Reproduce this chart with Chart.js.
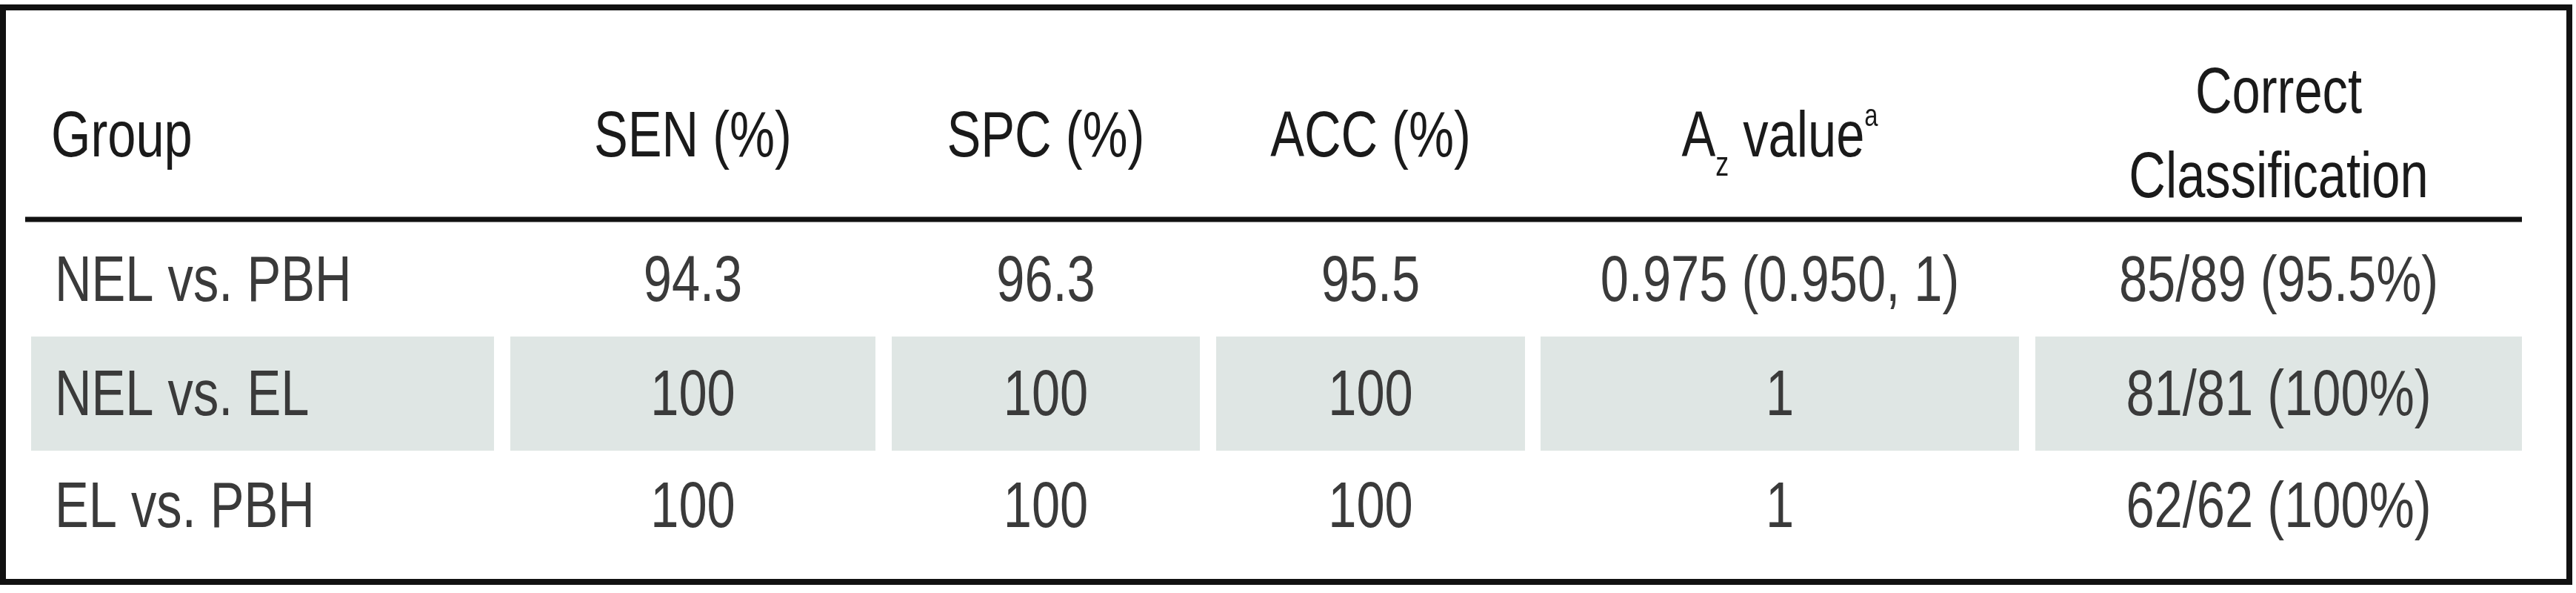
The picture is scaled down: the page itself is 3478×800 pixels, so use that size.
<!DOCTYPE html>
<html><head><meta charset="utf-8">
<script src="https://cdn.jsdelivr.net/npm/chart.js@4"></script>
<style>html,body{margin:0;padding:0;background:#fff}canvas{display:block}</style>
</head><body>
<canvas id="c" width="3478" height="800"></canvas>
<script>
const headers = ["Group","SEN (%)","SPC (%)","ACC (%)","AZ","Correct\nClassification"];
const groups = ["NEL vs. PBH","NEL vs. EL","EL vs. PBH"];
const sen = ["94.3","100","100"];
const spc = ["96.3","100","100"];
const acc = ["95.5","100","100"];
const az = ["0.975 (0.950, 1)","1","1"];
const correct = ["85/89 (95.5%)","81/81 (100%)","62/62 (100%)"];
const shadedRows = [1];

// layout (pixel-space units of the linear scales)
const colEdges = [[42,667],[689,1182],[1204,1620],[1642,2059],[2080,2726],[2748,3405]];
const rowY = [382,536,687];
const bandH = [454,608];
const FONT = "'Liberation Sans Narrow','Liberation Sans','DejaVu Sans Condensed',sans-serif";
const SQ = 0.78; // horizontal condensing

const tablePlugin = {
  id:'table',
  afterDraw(chart){
    const ctx = chart.ctx, xs = chart.scales.x, ys = chart.scales.y;
    const X = v=>xs.getPixelForValue(v), Y = v=>ys.getPixelForValue(v);
    const font = s=>s+"px "+FONT;
    const W = t=>ctx.measureText(t).width*SQ;
    const txt = (t,x,y,align)=>{
      let x0 = align==='center'? x-W(t)/2 : x;
      ctx.save(); ctx.textAlign='left'; ctx.translate(x0,y); ctx.scale(SQ,1); ctx.fillText(t,0,0); ctx.restore();
    };
    ctx.save();
    ctx.fillStyle = '#dfe6e4';
    shadedRows.forEach(r=>{
      colEdges.forEach(([a,b])=>ctx.fillRect(X(a),Y(bandH[0]),X(b)-X(a),Y(bandH[1])-Y(bandH[0])));
    });
    ctx.strokeStyle='#111'; ctx.lineWidth=8;
    ctx.strokeRect(X(4),Y(10),X(3469)-X(4),Y(785)-Y(10));
    ctx.lineWidth=7; ctx.beginPath(); ctx.moveTo(X(34),Y(296)); ctx.lineTo(X(3405),Y(296)); ctx.stroke();
    ctx.textBaseline='middle';
    ctx.fillStyle='#1a1a1a'; ctx.font=font(88);
    headers.forEach((h,i)=>{
      const [a,b]=colEdges[i]; const cx=(X(a)+X(b))/2;
      if(i===0){txt(h,X(69),Y(187),'left'); return;}
      if(h==='AZ'){
        const wA=W('A');
        ctx.font=font(46); const wz=W('z');
        ctx.font=font(88); const wv=W(' value');
        ctx.font=font(42); const wa=W('a');
        let x0=cx-(wA+wz+wv+wa)/2;
        ctx.font=font(88); txt('A',x0,Y(187),'left'); x0+=wA;
        ctx.font=font(46); txt('z',x0,Y(224),'left'); x0+=wz;
        ctx.font=font(88); txt(' value',x0,Y(187),'left'); x0+=wv;
        ctx.font=font(42); txt('a',x0,Y(158),'left');
        ctx.font=font(88); return;
      }
      const lines=h.split('\n');
      if(lines.length===1) txt(h,cx,Y(187),'center');
      else {txt(lines[0],cx,Y(128),'center'); txt(lines[1],cx,Y(242),'center');}
    });
    ctx.fillStyle='#3a3a3a'; ctx.font=font(88);
    const cols=[groups,sen,spc,acc,az,correct];
    cols.forEach((col,i)=>{
      const [a,b]=colEdges[i]; const cx=(X(a)+X(b))/2;
      col.forEach((t,r)=>{
        if(i===0) txt(t,X(74),Y(rowY[r]),'left');
        else txt(t,cx,Y(rowY[r]),'center');
      });
    });
    ctx.restore();
  }
};

new Chart(document.getElementById('c'),{
  type:'scatter',
  data:{datasets:[{data:[]}]},
  options:{
    responsive:false, animation:false, devicePixelRatio:1,
    layout:{padding:0},
    plugins:{legend:{display:false},tooltip:{enabled:false}},
    scales:{
      x:{type:'linear',min:0,max:3478,display:false},
      y:{type:'linear',min:0,max:800,reverse:true,display:false}
    }
  },
  plugins:[tablePlugin]
});
</script>
</body></html>
